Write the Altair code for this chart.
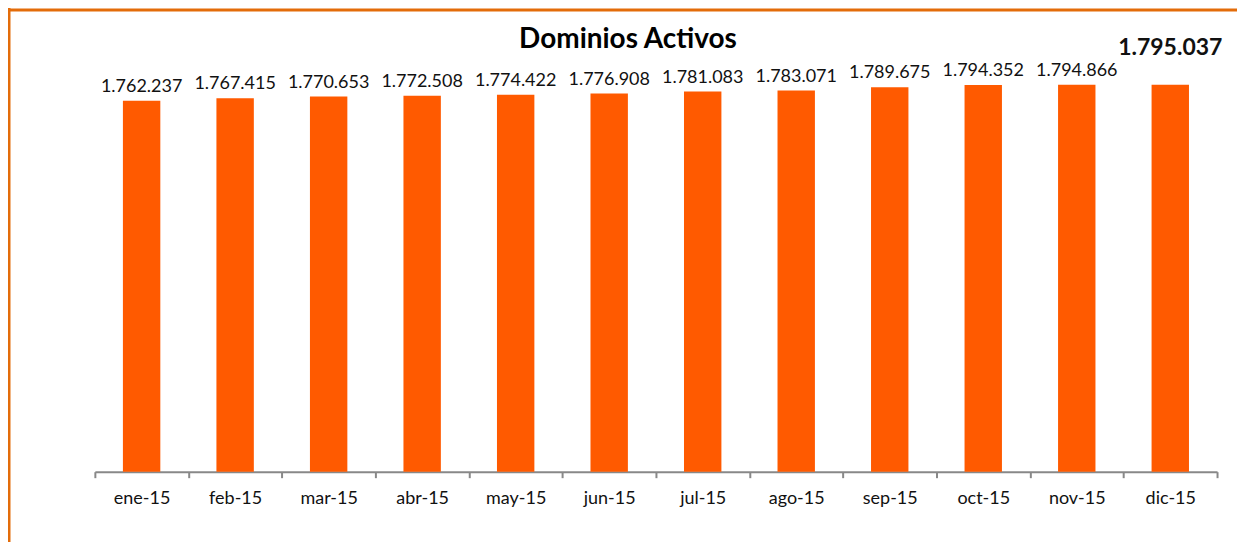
import altair as alt
import pandas as pd

months = ["ene-15", "feb-15", "mar-15", "abr-15", "may-15", "jun-15",
          "jul-15", "ago-15", "sep-15", "oct-15", "nov-15", "dic-15"]
dominios = [1762237, 1767415, 1770653, 1772508, 1774422, 1776908,
            1781083, 1783071, 1789675, 1794352, 1794866, 1795037]
titulo = "Dominios Activos"

df = pd.DataFrame({
    "mes": months,
    "valor": dominios,
    "etiqueta": [f"{v:,}".replace(",", ".") for v in dominios],
    "ultimo": [i == len(months) - 1 for i in range(len(months))],
})

FONT = "Lato"
BAR = "#FF5A00"
FRAME = "#E36C0A"
W, H = 1124, 390
YMIN, YMAX = 1000000, 1800000

base = alt.Chart(df)

x = alt.X("mes:N", sort=months, title=None,
          scale=alt.Scale(paddingInner=0, paddingOuter=0),
          axis=alt.Axis(labelAngle=0, labelFont=FONT, labelFontSize=18,
                        labelColor="#111111", labelPadding=12,
                        domainColor="#888888", domainWidth=2,
                        tickColor="#888888", tickWidth=2, tickSize=6,
                        tickBand="extent", grid=False))
y = alt.Y("valor:Q", title=None,
          scale=alt.Scale(domain=[YMIN, YMAX], zero=False, nice=False),
          axis=None)

bars = base.mark_bar(color=BAR, width=alt.RelativeBandSize(0.4)).encode(
    x=x, y=y, y2=alt.datum(YMIN))

labels = base.transform_filter("!datum.ultimo").mark_text(
    font=FONT, fontSize=18, color="#111111", baseline="bottom", dy=-5
).encode(x=alt.X("mes:N", sort=months), y="valor:Q", text="etiqueta:N")

last = base.transform_filter("datum.ultimo").mark_text(
    font=FONT, fontSize=23, fontWeight="bold", color="#111111",
    baseline="bottom", dy=-25
).encode(x=alt.X("mes:N", sort=months), y="valor:Q", text="etiqueta:N")

one = pd.DataFrame({"t": [titulo]})
title = alt.Chart(one).mark_text(
    font=FONT, fontSize=28, fontWeight="bold", color="#000000",
    baseline="alphabetic", align="center"
).encode(x=alt.value(W / 2 - 28), y=alt.value(-34), text="t:N")

frame_top = alt.Chart(one).mark_rule(
    color=FRAME, strokeWidth=3
).encode(x=alt.value(-90), x2=alt.value(W + 40), y=alt.value(-72.5))
frame_left = alt.Chart(one).mark_rule(
    color=FRAME, strokeWidth=3
).encode(x=alt.value(-86), y=alt.value(-80), y2=alt.value(H + 120))

chart = alt.layer(bars, labels, last, title, frame_top, frame_left).properties(
    width=W, height=H,
    padding={"left": 87, "top": 74, "right": 20, "bottom": 70},
    autosize=alt.AutoSizeParams(type="none"),
    background="white",
).configure_view(stroke="transparent", strokeWidth=0)

chart.save("out.html", embed_options={"renderer": "svg", "actions": False})
